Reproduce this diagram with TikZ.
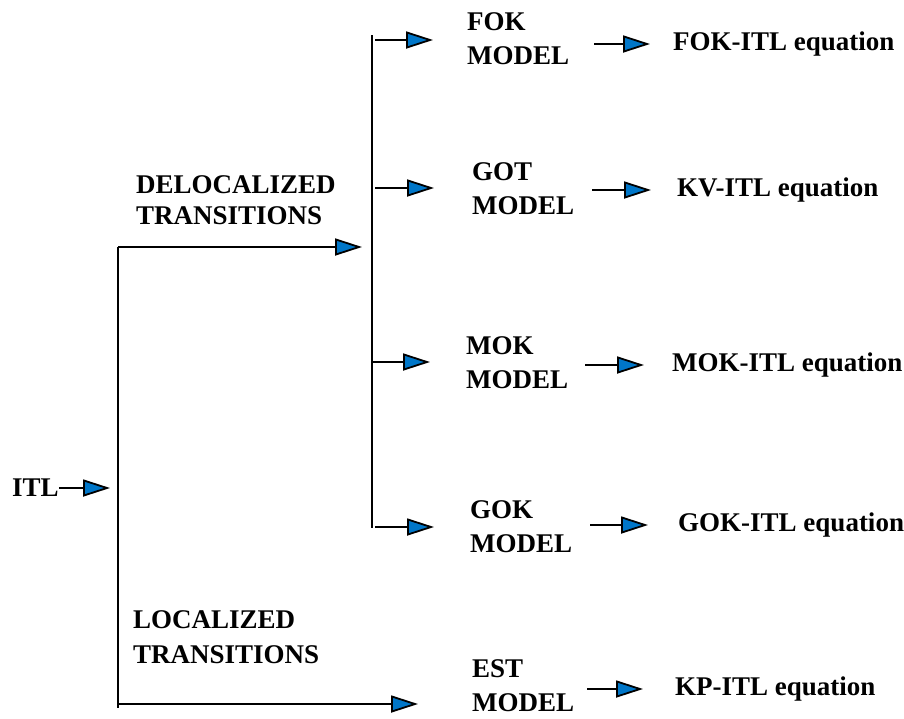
\documentclass[tikz,border=0pt]{standalone}
\usepackage{fontspec}
\setmainfont{Liberation Serif}
\usetikzlibrary{arrows.meta}
\definecolor{tipblue}{RGB}{0,118,200}
\tikzset{
  lbl/.style={font=\fontsize{27}{34}\selectfont\bfseries, inner sep=0pt, align=left, anchor=west},
  flow/.style={line width=2.6pt, -{Triangle[length=27pt,width=17pt,fill=tipblue,line width=1.8pt]}},
  bar/.style={line width=2.6pt}
}
\begin{document}
\begin{tikzpicture}[x=1pt,y=-1pt]
\useasboundingbox (0,0) rectangle (904,718);

% source and the two vertical bars
\node[lbl] (itl) at (12,488) {ITL};
\coordinate (t1) at (118,247);
\coordinate (t2) at (118,708);
\coordinate (t3) at (118,704);
\coordinate (b1) at (372,35);
\coordinate (b2) at (372,528);
\draw[bar] (t1) -- (t2);
\draw[bar] (b1) -- (b2);

% branch labels
\node[lbl, font=\fontsize{27}{31}\selectfont\bfseries] (deloc) at (136,200) {DELOCALIZED\\TRANSITIONS};
\node[lbl, font=\fontsize{27}{35}\selectfont\bfseries] (loc) at (133,637) {LOCALIZED\\TRANSITIONS};

% models
\node[lbl] (fok) at (467,39) {FOK\\MODEL};
\node[lbl] (got) at (472,189) {GOT\\MODEL};
\node[lbl] (mok) at (466,363) {MOK\\MODEL};
\node[lbl] (gok) at (470,527) {GOK\\MODEL};
\node[lbl] (est) at (472,686) {EST\\MODEL};

% equations
\node[lbl] (fokeq) at (673,44) {FOK-ITL equation};
\node[lbl] (kveq) at (677,190) {KV-ITL equation};
\node[lbl] (mokeq) at (672,365) {MOK-ITL equation};
\node[lbl] (gokeq) at (678,525) {GOK-ITL equation};
\node[lbl] (kpeq) at (675,689) {KP-ITL equation};

% bar junctions
\coordinate (jfok) at (372,40);
\coordinate (jgot) at (372,188);
\coordinate (jmok) at (372,362);
\coordinate (jgok) at (372,527);

% arrows out of the source and the bars
\draw[flow, shorten >=8pt] (itl.east) -- (itl.east -| t1);
\draw[flow, shorten >=10pt] (t1) -- (t1 -| b1);
\draw[flow, shorten <=3pt, shorten >=34pt] (jfok) -- (jfok -| fok.west);
\draw[flow, shorten <=3pt, shorten >=38pt] (jgot) -- (jgot -| got.west);
\draw[flow, shorten >=36pt] (jmok) -- (jmok -| mok.west);
\draw[flow, shorten <=3pt, shorten >=36pt] (jgok) -- (jgok -| gok.west);
\draw[flow, shorten >=54pt] (t3) -- (t3 -| est.west);

% arrows from models to equations
\draw[flow, shorten <=25pt, shorten >=23pt] (fok.east |- fokeq.west) -- (fokeq.west);
\draw[flow, shorten <=18pt, shorten >=26pt] (got.east |- kveq.west) -- (kveq.west);
\draw[flow, shorten <=17pt, shorten >=28pt] (mok.east |- mokeq.west) -- (mokeq.west);
\draw[flow, shorten <=18pt, shorten >=30pt] (gok.east |- gokeq.west) -- (gokeq.west);
\draw[flow, shorten <=13pt, shorten >=32pt] (est.east |- kpeq.west) -- (kpeq.west);
\end{tikzpicture}
\end{document}
